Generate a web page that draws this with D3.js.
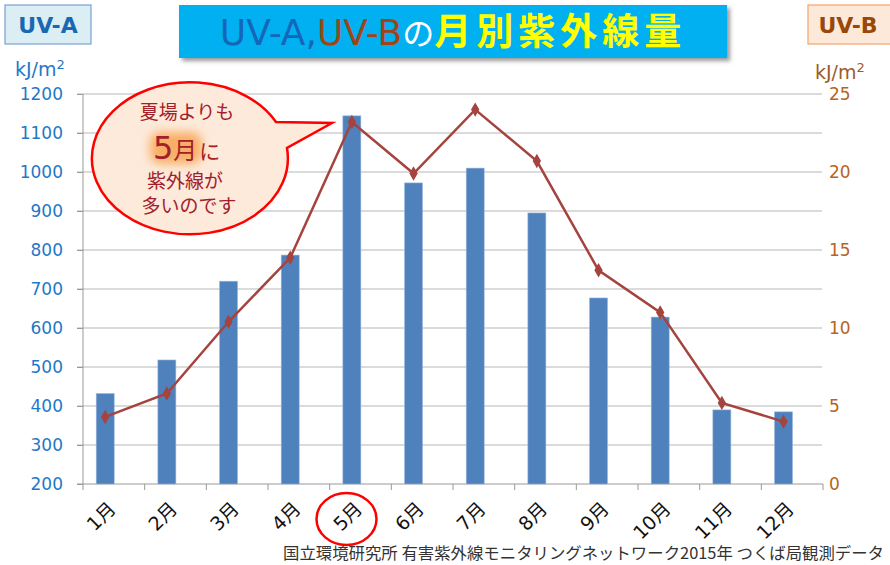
<!DOCTYPE html>
<html>
<head>
<meta charset="utf-8">
<script src="https://cdn.jsdelivr.net/npm/d3@7"></script>
<style>
  body { margin: 0; background: #fff; }
  svg { display: block; }
  text { font-family: "DejaVu Sans", "Noto Sans CJK JP", sans-serif; }
  .jp { font-family: "Noto Sans CJK JP", "DejaVu Sans", sans-serif; }
</style>
</head>
<body>
<div id="chart"></div>
<script>
// data
var months = ["1月", "2月", "3月", "4月", "5月", "6月", "7月", "8月", "9月", "10月", "11月", "12月"];
var uvA = [432, 518, 720, 787, 1144, 972, 1010, 895, 677, 628, 390, 385];
var uvB = [4.3, 5.8, 10.4, 14.5, 23.2, 19.9, 24.0, 20.7, 13.7, 11.0, 5.2, 4.0];
var leftTicks = [200, 300, 400, 500, 600, 700, 800, 900, 1000, 1100, 1200];
var rightTicks = [0, 5, 10, 15, 20, 25];

var svg = d3.select("#chart").append("svg")
            .attr("width", 890)
            .attr("height", 565);

var defs = svg.append("defs");
var shadow = defs.append("filter").attr("id", "shadow")
                 .attr("x", "-5%").attr("y", "-20%").attr("width", "115%").attr("height", "160%");
shadow.append("feDropShadow").attr("dx", 3).attr("dy", 3).attr("stdDeviation", 2)
      .attr("flood-color", "#555").attr("flood-opacity", 0.6);
var glow = defs.append("filter").attr("id", "glow")
               .attr("x", "-50%").attr("y", "-50%").attr("width", "200%").attr("height", "200%");
glow.append("feGaussianBlur").attr("stdDeviation", 5);

// scales
var x = d3.scaleBand().domain(months).range([83, 823]);
var yL = d3.scaleLinear().domain([200, 1200]).range([484, 94]);
var yR = d3.scaleLinear().domain([0, 25]).range([484, 94]);
var barW = 18;
function cx(m) { return x(m) + x.bandwidth() * 0.36; }

// gridlines
svg.selectAll("line.grid")
   .data(leftTicks.slice(1))
   .enter()
   .append("line")
   .attr("class", "grid")
   .attr("x1", 77).attr("x2", 822)
   .attr("y1", function(d) { return yL(d); })
   .attr("y2", function(d) { return yL(d); })
   .attr("stroke", "#b8b8b8").attr("stroke-width", 1.2);

// left axis
var leftAxis = d3.axisLeft(yL).tickValues(leftTicks).tickFormat(d3.format("d"))
                 .tickSize(6).tickPadding(14);
var gL = svg.append("g").attr("transform", "translate(83,0)").call(leftAxis);
gL.select(".domain").attr("stroke", "#999").attr("d", "M0,94V484");
gL.selectAll(".tick line").attr("stroke", "#999");
gL.selectAll("text").attr("fill", "#1f78c8").attr("font-size", 17)
  .attr("font-family", "DejaVu Sans");

// right axis labels
var rightAxis = d3.axisRight(yR).tickValues(rightTicks).tickSize(0).tickPadding(7);
var gR = svg.append("g").attr("transform", "translate(822,0)").call(rightAxis);
gR.select(".domain").remove();
gR.selectAll("text").attr("fill", "#b8641c").attr("font-size", 17)
  .attr("font-family", "DejaVu Sans");

// bottom axis
var bottomAxis = d3.axisBottom(x).tickSize(0).tickFormat("");
var gB = svg.append("g").attr("transform", "translate(0,484)").call(bottomAxis);
gB.select(".domain").attr("stroke", "#999").attr("d", "M77,0H823");
gB.selectAll("line.sep")
  .data(months.concat(["end"]))
  .enter()
  .append("line")
  .attr("class", "sep")
  .attr("x1", function(d, i) { return 83 + i * x.bandwidth(); })
  .attr("x2", function(d, i) { return 83 + i * x.bandwidth(); })
  .attr("y1", 0).attr("y2", 6)
  .attr("stroke", "#999");

// bars
svg.selectAll("rect.bar")
   .data(uvA)
   .enter()
   .append("rect")
   .attr("class", "bar")
   .attr("x", function(d, i) { return cx(months[i]) - barW / 2; })
   .attr("width", barW)
   .attr("y", function(d) { return yL(d); })
   .attr("height", function(d) { return 484 - yL(d); })
   .attr("fill", "#4f81bd")
   .attr("stroke", "#9db8dc").attr("stroke-width", 0.6);

// line
var line = d3.line()
             .x(function(d, i) { return cx(months[i]); })
             .y(function(d) { return yR(d); });
svg.append("path")
   .datum(uvB)
   .attr("d", line)
   .attr("fill", "none")
   .attr("stroke", "#a5433f")
   .attr("stroke-width", 2.5);
svg.selectAll("path.marker")
   .data(uvB)
   .enter()
   .append("path")
   .attr("class", "marker")
   .attr("d", d3.symbol().type(d3.symbolDiamond).size(60))
   .attr("transform", function(d, i) {
     return "translate(" + cx(months[i]) + "," + yR(d) + ")";
   })
   .attr("fill", "#a5433f");

// x labels
svg.selectAll("text.month")
   .data(months)
   .enter()
   .append("text")
   .attr("class", "month")
   .attr("transform", function(d) {
     return "translate(" + (x(d) + x.bandwidth() / 2 + 3) + ",510) rotate(-45)";
   })
   .attr("text-anchor", "end")
   .attr("font-size", 19)
   .attr("fill", "#111")
   .text(function(d) { return d; });

// circle round 5月
svg.append("ellipse")
   .attr("cx", x("5月") + x.bandwidth() / 2 - 14).attr("cy", 519)
   .attr("rx", 30).attr("ry", 26)
   .attr("fill", "none").attr("stroke", "#ff0000").attr("stroke-width", 2.5);

// title box
svg.append("rect")
   .attr("x", 179).attr("y", 5).attr("width", 548).attr("height", 53)
   .attr("fill", "#00b0f0")
   .attr("filter", "url(#shadow)");
var title = svg.append("text")
               .attr("x", 453).attr("y", 45)
               .attr("text-anchor", "middle")
               .attr("font-size", 36);
title.append("tspan").attr("fill", "#1366b8").text("UV-A,");
title.append("tspan").attr("fill", "#9e4518").text("UV-B");
title.append("tspan").attr("class", "jp").attr("fill", "#ffffff").attr("font-size", 32).text("の");
title.append("tspan").attr("class", "jp").attr("fill", "#ffff00").attr("font-weight", "bold")
     .attr("font-size", 37).attr("letter-spacing", 5).text("月別紫外線量");

// UV-A / UV-B boxes
svg.append("rect").attr("x", 5).attr("y", 5).attr("width", 86).attr("height", 39)
   .attr("fill", "#dbeef4").attr("stroke", "#7ba0d4").attr("stroke-width", 1.2);
svg.append("text").attr("x", 48).attr("y", 33).attr("text-anchor", "middle")
   .attr("font-size", 22).attr("font-weight", "bold").attr("fill", "#1a68b2")
   .text("UV-A");
svg.append("rect").attr("x", 808).attr("y", 5).attr("width", 90).attr("height", 39)
   .attr("fill", "#fde9d9").attr("stroke", "#f4a46a").attr("stroke-width", 1.2);
svg.append("text").attr("x", 848).attr("y", 33).attr("text-anchor", "middle")
   .attr("font-size", 22).attr("font-weight", "bold").attr("fill", "#984807")
   .text("UV-B");

// units
var uL = svg.append("text").attr("x", 15).attr("y", 76).attr("font-size", 19).attr("fill", "#1f78c8");
uL.append("tspan").text("kJ/m");
uL.append("tspan").attr("dy", -7).attr("font-size", 13).text("2");
var uR = svg.append("text").attr("x", 815).attr("y", 79).attr("font-size", 19).attr("fill", "#9e5a2a");
uR.append("tspan").text("kJ/m");
uR.append("tspan").attr("dy", -7).attr("font-size", 13).text("2");

// callout
svg.append("path")
   .attr("d", "M276,122 L332,123 L287,148 A98,76 0 1 1 276,122 Z")
   .attr("fill", "#fdeada")
   .attr("stroke", "#ff0000").attr("stroke-width", 2.5)
   .attr("stroke-linejoin", "miter");
svg.append("rect").attr("x", 150).attr("y", 132).attr("width", 52).attr("height", 32)
   .attr("rx", 10).attr("fill", "#f7a552").attr("opacity", 0.85)
   .attr("filter", "url(#glow)");
var calloutColor = "#a3202a";
svg.append("text").attr("class", "jp").attr("x", 187).attr("y", 119)
   .attr("text-anchor", "middle").attr("font-size", 19).attr("fill", calloutColor)
   .text("夏場よりも");
var five = svg.append("text").attr("class", "jp").attr("x", 153).attr("y", 159)
              .attr("fill", calloutColor);
five.append("tspan").attr("font-size", 32).attr("font-family", "DejaVu Sans").text("5");
five.append("tspan").attr("font-size", 24).text("月");
five.append("tspan").attr("font-size", 21).attr("dx", 2).text("に");
svg.append("text").attr("class", "jp").attr("x", 185).attr("y", 188)
   .attr("text-anchor", "middle").attr("font-size", 19).attr("fill", calloutColor)
   .text("紫外線が");
svg.append("text").attr("class", "jp").attr("x", 189).attr("y", 213)
   .attr("text-anchor", "middle").attr("font-size", 19).attr("fill", calloutColor)
   .text("多いのです");

// source
svg.append("text").attr("class", "jp").attr("x", 283).attr("y", 559)
   .attr("font-size", 16.4).attr("fill", "#333")
   .text("国立環境研究所 有害紫外線モニタリングネットワーク2015年 つくば局観測データ");
</script>
</body>
</html>
